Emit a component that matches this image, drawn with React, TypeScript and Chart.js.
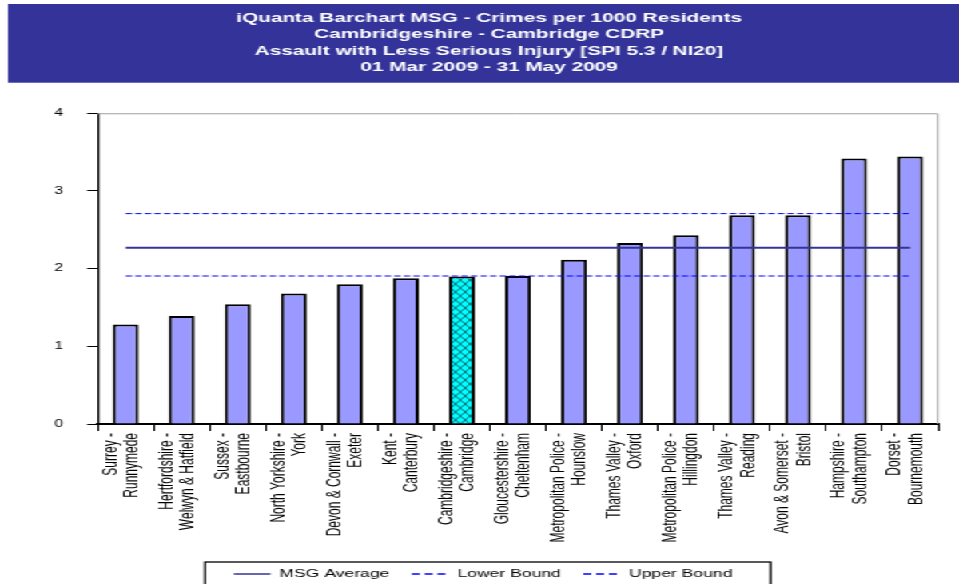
import React, { useEffect, useRef } from 'react';
import { Chart, registerables } from 'chart.js';

Chart.register(...registerables);

// ---- data ----
const titleLines = [
  'iQuanta Barchart MSG - Crimes per 1000 Residents',
  'Cambridgeshire - Cambridge CDRP',
  'Assault with Less Serious Injury [SPI 5.3 / NI20]',
  '01 Mar 2009 - 31 May 2009',
];

const categories = [
  ['Surrey -', 'Runnymede'],
  ['Hertfordshire -', 'Welwyn & Hatfield'],
  ['Sussex -', 'Eastbourne'],
  ['North Yorkshire -', 'York'],
  ['Devon & Cornwall -', 'Exeter'],
  ['Kent -', 'Canterbury'],
  ['Cambridgeshire -', 'Cambridge'],
  ['Gloucestershire -', 'Cheltenham'],
  ['Metropolitan Police -', 'Hounslow'],
  ['Thames Valley -', 'Oxford'],
  ['Metropolitan Police -', 'Hillingdon'],
  ['Thames Valley -', 'Reading'],
  ['Avon & Somerset -', 'Bristol'],
  ['Hampshire -', 'Southampton'],
  ['Dorset -', 'Bournemouth'],
];

const crimeRates = [1.28, 1.39, 1.54, 1.68, 1.8, 1.875, 1.9, 1.905, 2.115, 2.33, 2.43, 2.687, 2.687, 3.416, 3.442];

const msgAverage = [2.268, 2.268, 2.268, 2.268, 2.268, 2.268, 2.268, 2.268, 2.268, 2.268, 2.268, 2.268, 2.268, 2.268, 2.268];
const lowerBound = [1.905, 1.905, 1.905, 1.905, 1.905, 1.905, 1.905, 1.905, 1.905, 1.905, 1.905, 1.905, 1.905, 1.905, 1.905];
const upperBound = [2.708, 2.708, 2.708, 2.708, 2.708, 2.708, 2.708, 2.708, 2.708, 2.708, 2.708, 2.708, 2.708, 2.708, 2.708];

const yTickValues = [0, 1, 2, 3, 4];
const highlightIndex = 6;

// ---- layout constants ----
const W = 600;
const H = 600;
const STRETCH = 959 / W;
const FONT = "'Liberation Sans', Arial, Helvetica, sans-serif";

export default function App() {
  const ref = useRef<HTMLCanvasElement>(null);

  useEffect(() => {
    const canvas = ref.current as HTMLCanvasElement;
    const ctx0 = canvas.getContext('2d') as CanvasRenderingContext2D;

    const pc = document.createElement('canvas');
    pc.width = 6;
    pc.height = 8;
    const p = pc.getContext('2d') as CanvasRenderingContext2D;
    p.fillStyle = '#00ffff';
    p.fillRect(0, 0, 6, 8);
    p.strokeStyle = '#0a4a5a';
    p.lineWidth = 0.8;
    p.beginPath();
    p.moveTo(0, 0);
    p.lineTo(6, 8);
    p.moveTo(6, 0);
    p.lineTo(0, 8);
    p.stroke();
    const hatch = ctx0.createPattern(pc, 'repeat') as CanvasPattern;

    const barColors = crimeRates.map((_, i) => (i === highlightIndex ? hatch : '#9999ff'));

    const bannerPlugin = {
      id: 'banner',
      beforeDraw(chart: any) {
        const c = chart.ctx;
        c.save();
        c.fillStyle = '#333399';
        c.fillRect(5, 4, W - 5, 78.7);
        c.restore();
      },
    };

    const framePlugin = {
      id: 'frame',
      beforeDatasetsDraw(chart: any) {
        const { left, right, top, bottom } = chart.chartArea;
        const c = chart.ctx;
        c.save();
        c.strokeStyle = '#a0a0a0';
        c.lineWidth = 1;
        c.beginPath();
        c.moveTo(left, top + 0.5);
        c.lineTo(right - 0.3, top + 0.5);
        c.lineTo(right - 0.3, bottom);
        c.stroke();
        c.restore();
      },
    };

    const legendShiftPlugin = {
      id: 'legendShift',
      afterLayout(chart: any) {
        const lg = chart.legend;
        if (!lg) return;
        lg.left -= 3.7;
        lg.right -= 3.7;
      },
    };

    const legendBoxPlugin = {
      id: 'legendBox',
      afterDraw(chart: any) {
        const lg = chart.legend;
        if (!lg || !lg.legendHitBoxes || !lg.legendHitBoxes.length) return;
        const hb = lg.legendHitBoxes;
        const x0 = hb[0].left - 18;
        const last = hb[hb.length - 1];
        const x1 = last.left + last.width + 23.8;
        const y0 = lg.top + 7.5;
        const c = chart.ctx;
        c.save();
        c.strokeStyle = '#000';
        c.lineWidth = 1.3;
        c.strokeRect(x0, y0, x1 - x0, H + 20 - y0);
        c.restore();
      },
    };

    const chart = new Chart(canvas, {
      data: {
        labels: categories,
        datasets: [
          {
            type: 'line',
            label: 'MSG Average',
            data: msgAverage,
            borderColor: '#333399',
            backgroundColor: '#333399',
            borderWidth: 2,
            pointRadius: 0,
            fill: false,
            order: 0,
          },
          {
            type: 'line',
            label: 'Lower Bound',
            data: lowerBound,
            borderColor: '#0000ff',
            backgroundColor: '#0000ff',
            borderWidth: 1,
            borderDash: [4, 2],
            pointRadius: 0,
            fill: false,
            order: 0,
          },
          {
            type: 'line',
            label: 'Upper Bound',
            data: upperBound,
            borderColor: '#0000ff',
            backgroundColor: '#0000ff',
            borderWidth: 1,
            borderDash: [4, 2],
            pointRadius: 0,
            fill: false,
            order: 0,
          },
          {
            type: 'bar',
            label: 'Crimes per 1000 Residents',
            data: crimeRates,
            backgroundColor: barColors as any,
            borderColor: '#000000',
            borderWidth: 2,
            barPercentage: 0.46,
            categoryPercentage: 1,
            order: 1,
          },
        ],
      } as any,
      options: {
        responsive: false,
        animation: false,
        devicePixelRatio: 1,
        layout: { padding: { left: 25, right: 13, top: 0, bottom: 10.5 } },
        plugins: {
          tooltip: { enabled: false },
          title: {
            display: true,
            text: titleLines,
            color: '#ffffff',
            font: { family: FONT, size: 13, weight: 'bold', lineHeight: 16.5 / 13 },
            padding: { top: 9.75, bottom: 37.5 },
          },
          legend: {
            display: true,
            position: 'bottom',
            labels: {
              color: '#000000',
              font: { family: FONT, size: 11 },
              usePointStyle: true,
              pointStyle: 'line',
              pointStyleWidth: 23,
              padding: 14,
              filter: (item: any) => item.datasetIndex !== 3,
              generateLabels(chart: any) {
                const items = (Chart.defaults as any).plugins.legend.labels.generateLabels(chart);
                items.forEach((it: any) => {
                  const ds = chart.data.datasets[it.datasetIndex];
                  it.strokeStyle = ds.borderColor;
                  it.lineWidth = 1.6;
                  it.lineDash = ds.borderDash ? [5, 3] : [];
                });
                return items;
              },
            },
          },
        },
        scales: {
          x: {
            type: 'category',
            offset: true,
            border: { display: true, color: '#000000', width: 2 },
            grid: {
              display: true,
              offset: true,
              drawOnChartArea: false,
              drawTicks: true,
              tickLength: 7,
              color: '#000000',
              lineWidth: 1,
            },
            ticks: {
              autoSkip: false,
              minRotation: 90,
              maxRotation: 90,
              padding: 2,
              labelOffset: -9.3,
              color: '#000000',
              font: { family: FONT, size: 12, lineHeight: 1.1 },
            },
            afterFit(scale: any) {
              scale.height = 130.5;
            },
          },
          y: {
            type: 'linear',
            min: 0,
            max: 4,
            border: { display: true, color: '#000000', width: 1.2 },
            grid: {
              display: true,
              drawOnChartArea: false,
              drawTicks: true,
              tickLength: 6.6,
              color: '#000000',
              lineWidth: 1,
            },
            ticks: {
              stepSize: 1,
              padding: 15,
              color: '#000000',
              font: { family: FONT, size: 10 },
            },
            afterBuildTicks(scale: any) {
              scale.ticks = yTickValues.map((v) => ({ value: v }));
            },
            afterFit(scale: any) {
              scale.width = 36.1;
            },
          },
        },
      } as any,
      plugins: [bannerPlugin, framePlugin, legendShiftPlugin, legendBoxPlugin],
    });

    return () => chart.destroy();
  }, []);

  return (
    <div
      style={{
        position: 'fixed',
        left: 0,
        top: 0,
        width: W,
        height: H,
        transform: `scaleX(${STRETCH})`,
        transformOrigin: '0 0',
        background: '#ffffff',
      }}
    >
      <canvas ref={ref} width={W} height={H} style={{ display: 'block', width: W, height: H }} />
    </div>
  );
}
